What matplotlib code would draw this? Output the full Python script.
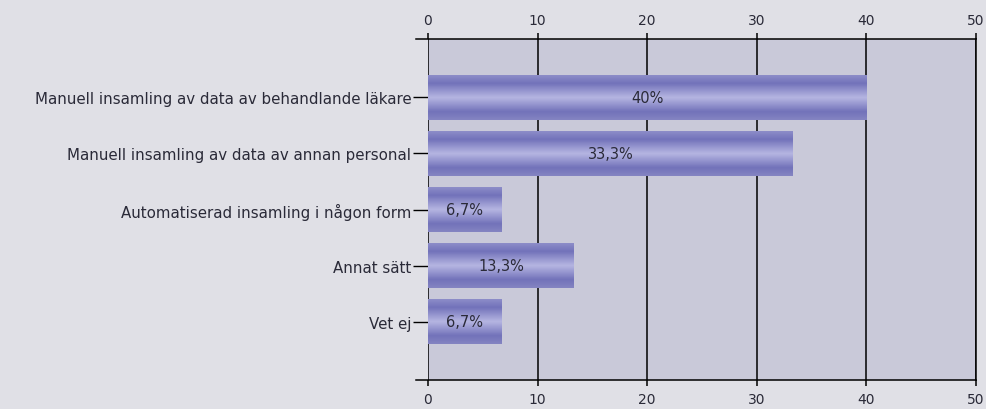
import numpy as np
import matplotlib.pyplot as plt
from matplotlib.colors import LinearSegmentedColormap

# Answer categories and their share (percent)
categories = [
    "Manuell insamling av data av behandlande läkare",
    "Manuell insamling av data av annan personal",
    "Automatiserad insamling i någon form",
    "Annat sätt",
    "Vet ej",
]
values = [40, 33.3, 6.7, 13.3, 6.7]
value_labels = ["40%", "33,3%", "6,7%", "13,3%", "6,7%"]
x_ticks = [0, 10, 20, 30, 40, 50]

fig_bg = "#e0e0e6"
plot_bg = "#c9c9d9"
text_col = "#2a2a38"

fig = plt.figure(figsize=(9.86, 4.10), dpi=100, facecolor=fig_bg)
ax = fig.add_axes([428 / 986, 1 - 381 / 410, (976 - 428) / 986, (381 - 40) / 410])
ax.set_facecolor(plot_bg)

ypos = np.arange(len(categories))
bar_h = 0.8

# gradient fill for the bars: dark bands near the edges, light middle
cmap = LinearSegmentedColormap.from_list(
    "bar", [(0.0, "#8c8cc8"), (0.18, "#7272ba"), (0.5, "#b6b6e2"),
            (0.82, "#7272ba"), (1.0, "#8484c2")])
grad = np.linspace(0, 1, 64).reshape(-1, 1)

for y, v, lab in zip(ypos, values, value_labels):
    ax.imshow(grad, cmap=cmap, aspect="auto", interpolation="bilinear",
              extent=(0, v, y + bar_h / 2, y - bar_h / 2), zorder=3)
    ax.text(v / 2, y, lab, ha="center", va="center", fontsize=10.5,
            color=text_col, zorder=5)

ax.set_xlim(0, 50)
ax.set_ylim(len(categories) - 1 + 1.04, -1.04)

ax.set_xticks(x_ticks)
ax.grid(axis="x", color="black", lw=1.1, zorder=2)
ax.tick_params(axis="x", which="both", top=True, bottom=True, labeltop=True,
               labelbottom=True, length=4, width=1.1, color="black",
               labelsize=10, labelcolor=text_col, pad=5)

ax.set_yticks(ypos)
ax.set_yticklabels(categories)
ax.tick_params(axis="y", length=11, width=1, color="black", labelsize=10.8,
               labelcolor=text_col, pad=1)

for s in ["top", "bottom"]:
    ax.spines[s].set_color("black")
    ax.spines[s].set_linewidth(1.1)
    ax.spines[s].set_bounds(-1.1, 50)
ax.spines["left"].set_visible(False)
ax.spines["right"].set_color("black")
ax.spines["right"].set_linewidth(1.1)

fig.savefig("out.png", dpi=100, facecolor=fig_bg)
